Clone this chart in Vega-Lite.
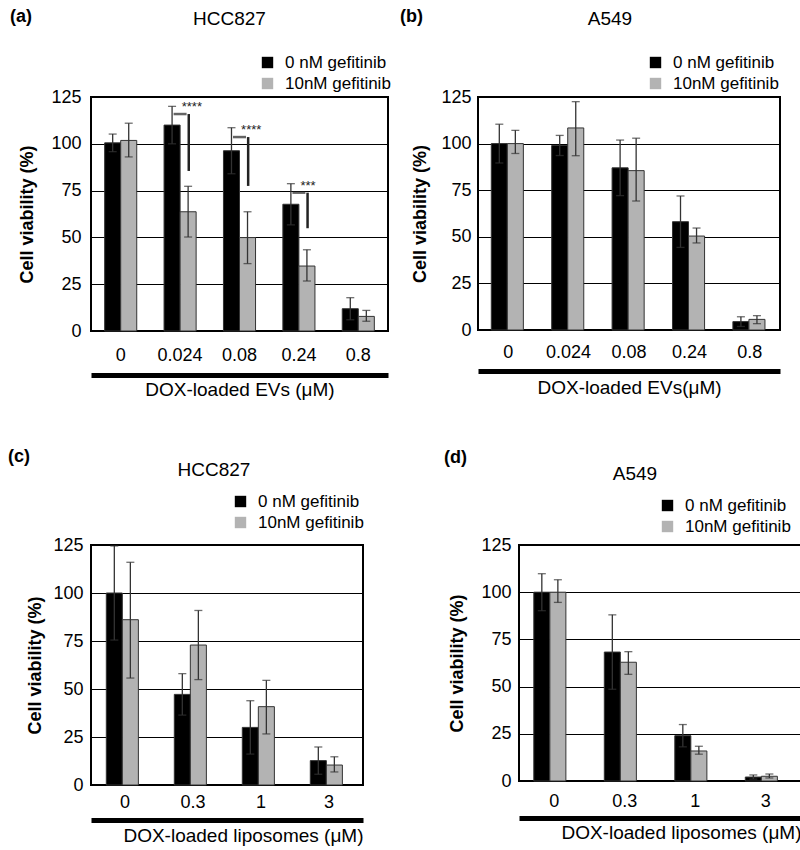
{
  "$schema": "https://vega.github.io/schema/vega-lite/v6.json",
  "padding": {"left": 7, "top": 8, "right": 0, "bottom": 0},
  "config": {
    "font": "Liberation Sans",
    "view": {"stroke": "black", "strokeWidth": 2},
    "title": {"color": "black", "font": "Liberation Sans"},
    "axis": {"labelColor": "black", "titleColor": "black", "labelFont": "Liberation Sans", "titleFont": "Liberation Sans"},
    "legend": {"labelColor": "black", "labelFont": "Liberation Sans", "padding": 0}
  },
  "resolve": {"scale": {"color": "independent"}, "legend": {"color": "independent"}},
  "datasets": {
    "viab": [
      {"panel": "a", "conc": "0", "group": "0 nM gefitinib", "value": 100.5, "lo": 95.8, "hi": 105.2},
      {"panel": "a", "conc": "0", "group": "10nM gefitinib", "value": 101.8, "lo": 93, "hi": 111},
      {"panel": "a", "conc": "0.024", "group": "0 nM gefitinib", "value": 110, "lo": 100, "hi": 120},
      {"panel": "a", "conc": "0.024", "group": "10nM gefitinib", "value": 63.7, "lo": 50.2, "hi": 77.3},
      {"panel": "a", "conc": "0.08", "group": "0 nM gefitinib", "value": 96.3, "lo": 84, "hi": 108.6},
      {"panel": "a", "conc": "0.08", "group": "10nM gefitinib", "value": 49.9, "lo": 36, "hi": 63.7},
      {"panel": "a", "conc": "0.24", "group": "0 nM gefitinib", "value": 67.7, "lo": 56.7, "hi": 78.7},
      {"panel": "a", "conc": "0.24", "group": "10nM gefitinib", "value": 34.7, "lo": 26.7, "hi": 43.4},
      {"panel": "a", "conc": "0.8", "group": "0 nM gefitinib", "value": 11.9, "lo": 6, "hi": 17.8},
      {"panel": "a", "conc": "0.8", "group": "10nM gefitinib", "value": 7.8, "lo": 5.2, "hi": 11},
      {"panel": "b", "conc": "0", "group": "0 nM gefitinib", "value": 100, "lo": 89.6, "hi": 110.4},
      {"panel": "b", "conc": "0", "group": "10nM gefitinib", "value": 100, "lo": 94.7, "hi": 107.1},
      {"panel": "b", "conc": "0.024", "group": "0 nM gefitinib", "value": 99, "lo": 93.6, "hi": 104.4},
      {"panel": "b", "conc": "0.024", "group": "10nM gefitinib", "value": 108.4, "lo": 93.5, "hi": 122.5},
      {"panel": "b", "conc": "0.08", "group": "0 nM gefitinib", "value": 87, "lo": 72.1, "hi": 101.9},
      {"panel": "b", "conc": "0.08", "group": "10nM gefitinib", "value": 85.5, "lo": 69.2, "hi": 102.9},
      {"panel": "b", "conc": "0.24", "group": "0 nM gefitinib", "value": 58.1, "lo": 44.3, "hi": 71.9},
      {"panel": "b", "conc": "0.24", "group": "10nM gefitinib", "value": 50.4, "lo": 46.7, "hi": 54.7},
      {"panel": "b", "conc": "0.8", "group": "0 nM gefitinib", "value": 4.5, "lo": 1.9, "hi": 7.1},
      {"panel": "b", "conc": "0.8", "group": "10nM gefitinib", "value": 5.7, "lo": 3.4, "hi": 7.7},
      {"panel": "c", "conc": "0", "group": "0 nM gefitinib", "value": 100, "lo": 75.5, "hi": 124.5},
      {"panel": "c", "conc": "0", "group": "10nM gefitinib", "value": 86.1, "lo": 55.7, "hi": 116},
      {"panel": "c", "conc": "0.3", "group": "0 nM gefitinib", "value": 47.2, "lo": 36.4, "hi": 58},
      {"panel": "c", "conc": "0.3", "group": "10nM gefitinib", "value": 72.9, "lo": 54.9, "hi": 90.9},
      {"panel": "c", "conc": "1", "group": "0 nM gefitinib", "value": 30, "lo": 16.1, "hi": 43.9},
      {"panel": "c", "conc": "1", "group": "10nM gefitinib", "value": 40.8, "lo": 26.6, "hi": 54.5},
      {"panel": "c", "conc": "3", "group": "0 nM gefitinib", "value": 12.7, "lo": 5.6, "hi": 19.8},
      {"panel": "c", "conc": "3", "group": "10nM gefitinib", "value": 10.4, "lo": 6.8, "hi": 14.7},
      {"panel": "d", "conc": "0", "group": "0 nM gefitinib", "value": 100, "lo": 90.2, "hi": 109.8},
      {"panel": "d", "conc": "0", "group": "10nM gefitinib", "value": 100, "lo": 94.6, "hi": 106.6},
      {"panel": "d", "conc": "0.3", "group": "0 nM gefitinib", "value": 68.3, "lo": 48.6, "hi": 88},
      {"panel": "d", "conc": "0.3", "group": "10nM gefitinib", "value": 62.9, "lo": 56.5, "hi": 68.5},
      {"panel": "d", "conc": "1", "group": "0 nM gefitinib", "value": 24, "lo": 18.1, "hi": 29.9},
      {"panel": "d", "conc": "1", "group": "10nM gefitinib", "value": 15.9, "lo": 14.2, "hi": 18.4},
      {"panel": "d", "conc": "3", "group": "0 nM gefitinib", "value": 2.1, "lo": 1, "hi": 3.2},
      {"panel": "d", "conc": "3", "group": "10nM gefitinib", "value": 2.5, "lo": 1.6, "hi": 3.7}
    ],
    "sig": [
      {"panel": "a", "conc": "0.024", "top": 115.9, "bottom": 85.5, "starY": 119.7, "stars": "****"},
      {"panel": "a", "conc": "0.08", "top": 103.6, "bottom": 77.5, "starY": 107.2, "stars": "****"},
      {"panel": "a", "conc": "0.24", "top": 73.9, "bottom": 54.9, "starY": 77.3, "stars": "***"}
    ]
  },
  "spacing": 48,
  "vconcat": [
    {
      "spacing": 8,
      "resolve": {"scale": {"color": "independent"}, "legend": {"color": "independent"}},
      "hconcat": [
        {
          "title": {"text": "(a)", "anchor": "start", "fontSize": 18, "fontWeight": "bold", "offset": -17, "dx": -8},
          "vconcat": [
            {
              "width": 297, "height": 234,
              "title": {"text": "HCC827", "anchor": "middle", "frame": "group", "dx": -10, "offset": 59, "fontSize": 19, "fontWeight": "normal"},
              "layer": [
                {
                  "data": {"name": "viab"}, "transform": [{"filter": "datum.panel === 'a'"}],
                  "mark": {"type": "bar", "stroke": "#333", "strokeWidth": 1},
                  "encoding": {
                    "x": {"field": "conc", "type": "nominal", "scale": {"domain": ["0", "0.024", "0.08", "0.24", "0.8"], "paddingInner": 0.46, "paddingOuter": 0.23}, "axis": {"orient": "bottom", "title": null, "labelAngle": 0, "labelPadding": 15, "labelFontSize": 18, "ticks": false, "domain": false, "grid": false}},
                    "xOffset": {"field": "group", "type": "nominal"},
                    "y": {"field": "value", "type": "quantitative", "title": "Cell viability (%)", "scale": {"domain": [0, 125], "nice": false}, "axis": {"values": [0, 25, 50, 75, 100, 125], "grid": true, "gridColor": "black", "gridWidth": 1, "gridOpacity": 1, "ticks": false, "domain": false, "labelPadding": 10, "labelFontSize": 18, "titleFontSize": 18, "titleFontWeight": "bold", "titlePadding": 14}},
                    "color": {"field": "group", "type": "nominal", "scale": {"domain": ["0 nM gefitinib", "10nM gefitinib"], "range": ["#000000", "#b3b3b3"]}, "legend": {"title": null, "orient": "none", "legendX": 168, "legendY": -43, "symbolType": "square", "symbolSize": 130, "symbolStrokeWidth": 0, "labelFontSize": 17, "labelOffset": 9, "rowPadding": 3}}
                  }
                },
                {
                  "data": {"name": "viab"}, "transform": [{"filter": "datum.panel === 'a'"}],
                  "mark": {"type": "rule", "color": "#333", "strokeWidth": 1.3},
                  "encoding": {
                    "x": {"field": "conc", "type": "nominal", "axis": {"orient": "bottom", "title": "DOX-loaded EVs (μM)", "labels": false, "ticks": false, "grid": false, "domain": true, "domainColor": "black", "domainWidth": 5, "offset": 44, "titlePadding": 5, "titleFontSize": 19, "titleFontWeight": "normal"}},
                    "xOffset": {"field": "group", "type": "nominal"},
                    "y": {"field": "lo", "type": "quantitative", "title": "Cell viability (%)"},
                    "y2": {"field": "hi"}
                  }
                },
                {
                  "data": {"name": "viab"}, "transform": [{"filter": "datum.panel === 'a'"}],
                  "mark": {"type": "tick", "color": "#333", "thickness": 1.3, "size": 8, "orient": "horizontal"},
                  "encoding": {
                    "x": {"field": "conc", "type": "nominal", "axis": null},
                    "xOffset": {"field": "group", "type": "nominal"},
                    "y": {"field": "hi", "type": "quantitative", "title": "Cell viability (%)"}
                  }
                },
                {
                  "data": {"name": "viab"}, "transform": [{"filter": "datum.panel === 'a'"}],
                  "mark": {"type": "tick", "color": "#333", "thickness": 1.3, "size": 8, "orient": "horizontal"},
                  "encoding": {
                    "x": {"field": "conc", "type": "nominal", "axis": null},
                    "xOffset": {"field": "group", "type": "nominal"},
                    "y": {"field": "lo", "type": "quantitative", "title": "Cell viability (%)"}
                  }
                },
                {
                  "data": {"name": "sig"}, "transform": [{"filter": "datum.panel === 'a'"}],
                  "mark": {"type": "rule", "color": "#222", "strokeWidth": 2.5},
                  "encoding": {
                    "x": {"field": "conc", "type": "nominal", "bandPosition": 0.77, "axis": null},
                    "y": {"field": "bottom", "type": "quantitative", "title": "Cell viability (%)"},
                    "y2": {"field": "top"}
                  }
                },
                {
                  "data": {"name": "sig"}, "transform": [{"filter": "datum.panel === 'a'"}],
                  "mark": {"type": "tick", "color": "#222", "thickness": 2.5, "size": 13, "orient": "horizontal"},
                  "encoding": {
                    "x": {"field": "conc", "type": "nominal", "bandPosition": 0.57, "axis": null},
                    "y": {"field": "top", "type": "quantitative", "title": "Cell viability (%)"}
                  }
                },
                {
                  "data": {"name": "sig"}, "transform": [{"filter": "datum.panel === 'a'"}],
                  "mark": {"type": "text", "align": "left", "baseline": "middle", "fontSize": 13, "color": "#222"},
                  "encoding": {
                    "x": {"field": "conc", "type": "nominal", "bandPosition": 0.55, "axis": null},
                    "y": {"field": "starY", "type": "quantitative", "title": "Cell viability (%)"},
                    "text": {"field": "stars"}
                  }
                }
              ],
              "resolve": {"axis": {"x": "independent"}}
            }
          ]
        },
        {
          "title": {"text": "(b)", "anchor": "start", "fontSize": 18, "fontWeight": "bold", "offset": -17, "dx": -11},
          "vconcat": [
            {
              "width": 302, "height": 233,
              "title": {"text": "A549", "anchor": "middle", "frame": "group", "dx": -19, "offset": 59, "fontSize": 19, "fontWeight": "normal"},
              "layer": [
                {
                  "data": {"name": "viab"}, "transform": [{"filter": "datum.panel === 'b'"}],
                  "mark": {"type": "bar", "stroke": "#333", "strokeWidth": 1},
                  "encoding": {
                    "x": {"field": "conc", "type": "nominal", "scale": {"domain": ["0", "0.024", "0.08", "0.24", "0.8"], "paddingInner": 0.44, "paddingOuter": 0.22}, "axis": {"orient": "bottom", "title": null, "labelAngle": 0, "labelPadding": 13, "labelFontSize": 18, "ticks": false, "domain": false, "grid": false}},
                    "xOffset": {"field": "group", "type": "nominal"},
                    "y": {"field": "value", "type": "quantitative", "title": "Cell viability (%)", "scale": {"domain": [0, 125], "nice": false}, "axis": {"values": [0, 25, 50, 75, 100, 125], "grid": true, "gridColor": "black", "gridWidth": 1, "gridOpacity": 1, "ticks": false, "domain": false, "labelPadding": 7, "labelFontSize": 18, "titleFontSize": 18, "titleFontWeight": "bold", "titlePadding": 11}},
                    "color": {"field": "group", "type": "nominal", "scale": {"domain": ["0 nM gefitinib", "10nM gefitinib"], "range": ["#000000", "#b3b3b3"]}, "legend": {"title": null, "orient": "none", "legendX": 169, "legendY": -43, "symbolType": "square", "symbolSize": 130, "symbolStrokeWidth": 0, "labelFontSize": 17, "labelOffset": 9, "rowPadding": 3}}
                  }
                },
                {
                  "data": {"name": "viab"}, "transform": [{"filter": "datum.panel === 'b'"}],
                  "mark": {"type": "rule", "color": "#333", "strokeWidth": 1.3},
                  "encoding": {
                    "x": {"field": "conc", "type": "nominal", "axis": {"orient": "bottom", "title": "DOX-loaded EVs(μM)", "labels": false, "ticks": false, "grid": false, "domain": true, "domainColor": "black", "domainWidth": 5, "offset": 41, "titlePadding": 7, "titleFontSize": 19, "titleFontWeight": "normal"}},
                    "xOffset": {"field": "group", "type": "nominal"},
                    "y": {"field": "lo", "type": "quantitative", "title": "Cell viability (%)"},
                    "y2": {"field": "hi"}
                  }
                },
                {
                  "data": {"name": "viab"}, "transform": [{"filter": "datum.panel === 'b'"}],
                  "mark": {"type": "tick", "color": "#333", "thickness": 1.3, "size": 8, "orient": "horizontal"},
                  "encoding": {
                    "x": {"field": "conc", "type": "nominal", "axis": null},
                    "xOffset": {"field": "group", "type": "nominal"},
                    "y": {"field": "hi", "type": "quantitative", "title": "Cell viability (%)"}
                  }
                },
                {
                  "data": {"name": "viab"}, "transform": [{"filter": "datum.panel === 'b'"}],
                  "mark": {"type": "tick", "color": "#333", "thickness": 1.3, "size": 8, "orient": "horizontal"},
                  "encoding": {
                    "x": {"field": "conc", "type": "nominal", "axis": null},
                    "xOffset": {"field": "group", "type": "nominal"},
                    "y": {"field": "lo", "type": "quantitative", "title": "Cell viability (%)"}
                  }
                }
              ],
              "resolve": {"axis": {"x": "independent"}}
            }
          ]
        }
      ]
    },
    {
      "spacing": 79,
      "resolve": {"scale": {"color": "independent"}, "legend": {"color": "independent"}},
      "hconcat": [
        {
          "title": {"text": "(c)", "anchor": "start", "fontSize": 18, "fontWeight": "bold", "offset": -6, "dx": -18},
          "vconcat": [
            {
              "width": 272, "height": 240,
              "title": {"text": "HCC827", "anchor": "middle", "frame": "group", "dx": -13, "offset": 56, "fontSize": 19, "fontWeight": "normal"},
              "layer": [
                {
                  "data": {"name": "viab"}, "transform": [{"filter": "datum.panel === 'c'"}],
                  "mark": {"type": "bar", "stroke": "#333", "strokeWidth": 1},
                  "encoding": {
                    "x": {"field": "conc", "type": "nominal", "scale": {"domain": ["0", "0.3", "1", "3"], "paddingInner": 0.45, "paddingOuter": 0.225}, "axis": {"orient": "bottom", "title": null, "labelAngle": 0, "labelPadding": 8, "labelFontSize": 18, "ticks": false, "domain": false, "grid": false}},
                    "xOffset": {"field": "group", "type": "nominal"},
                    "y": {"field": "value", "type": "quantitative", "title": "Cell viability (%)", "scale": {"domain": [0, 125], "nice": false}, "axis": {"values": [0, 25, 50, 75, 100, 125], "grid": true, "gridColor": "black", "gridWidth": 1, "gridOpacity": 1, "ticks": false, "domain": false, "labelPadding": 8, "labelFontSize": 18, "titleFontSize": 18, "titleFontWeight": "bold", "titlePadding": 8}},
                    "color": {"field": "group", "type": "nominal", "scale": {"domain": ["0 nM gefitinib", "10nM gefitinib"], "range": ["#000000", "#b3b3b3"]}, "legend": {"title": null, "orient": "none", "legendX": 141, "legendY": -52, "symbolType": "square", "symbolSize": 130, "symbolStrokeWidth": 0, "labelFontSize": 17, "labelOffset": 9, "rowPadding": 3}}
                  }
                },
                {
                  "data": {"name": "viab"}, "transform": [{"filter": "datum.panel === 'c'"}],
                  "mark": {"type": "rule", "color": "#333", "strokeWidth": 1.3},
                  "encoding": {
                    "x": {"field": "conc", "type": "nominal", "axis": {"orient": "bottom", "title": "DOX-loaded liposomes (μM)", "titleAnchor": "end", "labels": false, "ticks": false, "grid": false, "domain": true, "domainColor": "black", "domainWidth": 5, "offset": 35, "titlePadding": 6, "titleFontSize": 19, "titleFontWeight": "normal"}},
                    "xOffset": {"field": "group", "type": "nominal"},
                    "y": {"field": "lo", "type": "quantitative", "title": "Cell viability (%)"},
                    "y2": {"field": "hi"}
                  }
                },
                {
                  "data": {"name": "viab"}, "transform": [{"filter": "datum.panel === 'c'"}],
                  "mark": {"type": "tick", "color": "#333", "thickness": 1.3, "size": 8, "orient": "horizontal"},
                  "encoding": {
                    "x": {"field": "conc", "type": "nominal", "axis": null},
                    "xOffset": {"field": "group", "type": "nominal"},
                    "y": {"field": "hi", "type": "quantitative", "title": "Cell viability (%)"}
                  }
                },
                {
                  "data": {"name": "viab"}, "transform": [{"filter": "datum.panel === 'c'"}],
                  "mark": {"type": "tick", "color": "#333", "thickness": 1.3, "size": 8, "orient": "horizontal"},
                  "encoding": {
                    "x": {"field": "conc", "type": "nominal", "axis": null},
                    "xOffset": {"field": "group", "type": "nominal"},
                    "y": {"field": "lo", "type": "quantitative", "title": "Cell viability (%)"}
                  }
                }
              ],
              "resolve": {"axis": {"x": "independent"}}
            }
          ]
        },
        {
          "title": {"text": "(d)", "anchor": "start", "fontSize": 18, "fontWeight": "bold", "offset": -3, "dx": -4},
          "vconcat": [
            {
              "width": 282, "height": 236,
              "title": {"text": "A549", "anchor": "middle", "frame": "group", "dx": -25, "offset": 52, "fontSize": 19, "fontWeight": "normal"},
              "layer": [
                {
                  "data": {"name": "viab"}, "transform": [{"filter": "datum.panel === 'd'"}],
                  "mark": {"type": "bar", "stroke": "#333", "strokeWidth": 1},
                  "encoding": {
                    "x": {"field": "conc", "type": "nominal", "scale": {"domain": ["0", "0.3", "1", "3"], "paddingInner": 0.42, "paddingOuter": 0.21}, "axis": {"orient": "bottom", "title": null, "labelAngle": 0, "labelPadding": 11, "labelFontSize": 18, "ticks": false, "domain": false, "grid": false}},
                    "xOffset": {"field": "group", "type": "nominal"},
                    "y": {"field": "value", "type": "quantitative", "title": "Cell viability (%)", "scale": {"domain": [0, 125], "nice": false}, "axis": {"values": [0, 25, 50, 75, 100, 125], "grid": true, "gridColor": "black", "gridWidth": 1, "gridOpacity": 1, "ticks": false, "domain": false, "labelPadding": 8, "labelFontSize": 18, "titleFontSize": 18, "titleFontWeight": "bold", "titlePadding": 14}},
                    "color": {"field": "group", "type": "nominal", "scale": {"domain": ["0 nM gefitinib", "10nM gefitinib"], "range": ["#000000", "#b3b3b3"]}, "legend": {"title": null, "orient": "none", "legendX": 140, "legendY": -48, "symbolType": "square", "symbolSize": 130, "symbolStrokeWidth": 0, "labelFontSize": 17, "labelOffset": 9, "rowPadding": 3}}
                  }
                },
                {
                  "data": {"name": "viab"}, "transform": [{"filter": "datum.panel === 'd'"}],
                  "mark": {"type": "rule", "color": "#333", "strokeWidth": 1.3},
                  "encoding": {
                    "x": {"field": "conc", "type": "nominal", "axis": {"orient": "bottom", "title": "DOX-loaded liposomes (μM)", "titleAnchor": "end", "labels": false, "ticks": false, "grid": false, "domain": true, "domainColor": "black", "domainWidth": 5, "offset": 37, "titlePadding": 5, "titleFontSize": 19, "titleFontWeight": "normal"}},
                    "xOffset": {"field": "group", "type": "nominal"},
                    "y": {"field": "lo", "type": "quantitative", "title": "Cell viability (%)"},
                    "y2": {"field": "hi"}
                  }
                },
                {
                  "data": {"name": "viab"}, "transform": [{"filter": "datum.panel === 'd'"}],
                  "mark": {"type": "tick", "color": "#333", "thickness": 1.3, "size": 8, "orient": "horizontal"},
                  "encoding": {
                    "x": {"field": "conc", "type": "nominal", "axis": null},
                    "xOffset": {"field": "group", "type": "nominal"},
                    "y": {"field": "hi", "type": "quantitative", "title": "Cell viability (%)"}
                  }
                },
                {
                  "data": {"name": "viab"}, "transform": [{"filter": "datum.panel === 'd'"}],
                  "mark": {"type": "tick", "color": "#333", "thickness": 1.3, "size": 8, "orient": "horizontal"},
                  "encoding": {
                    "x": {"field": "conc", "type": "nominal", "axis": null},
                    "xOffset": {"field": "group", "type": "nominal"},
                    "y": {"field": "lo", "type": "quantitative", "title": "Cell viability (%)"}
                  }
                }
              ],
              "resolve": {"axis": {"x": "independent"}}
            }
          ]
        }
      ]
    }
  ]
}
